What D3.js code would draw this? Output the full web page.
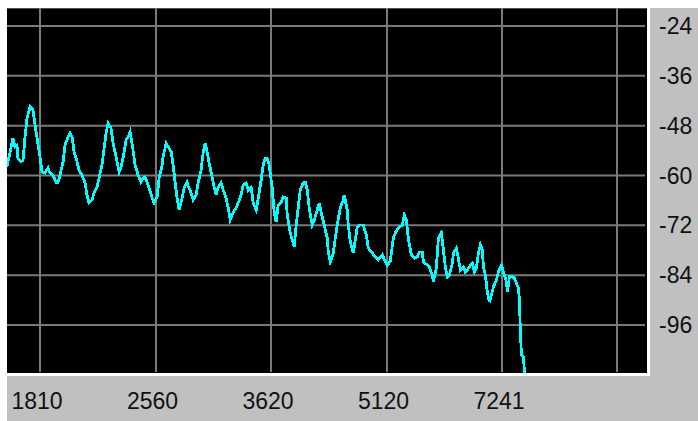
<!DOCTYPE html>
<html>
<head>
<meta charset="utf-8">
<script src="https://cdn.jsdelivr.net/npm/d3@7"></script>
<style>
  html, body { margin: 0; padding: 0; background: #fff; }
  svg { display: block; }
</style>
</head>
<body>
<svg id="chart" width="698" height="421"></svg>
<script>
// spectrum trace (Hz / dB)
const freqs = [1639, 1659, 1669, 1679, 1689, 1694, 1710, 1720, 1730, 1741, 1757, 1772, 1783, 1794, 1810,
  1821, 1837, 1854, 1865, 1882, 1899, 1911, 1922, 1940, 1951, 1969, 1981, 1993, 2005, 2023, 2035,
  2053, 2072, 2084, 2097, 2116, 2129, 2148, 2161, 2180, 2194, 2207, 2220, 2240, 2254, 2274, 2295,
  2309, 2322, 2343, 2358, 2372, 2393, 2408, 2430, 2451, 2466, 2481, 2496, 2511, 2534, 2549, 2572,
  2588, 2611, 2619, 2643, 2659, 2683, 2699, 2715, 2731, 2748, 2773, 2789, 2815, 2823, 2849, 2866,
  2892, 2909, 2935, 2953, 2971, 2989, 3007, 3034, 3052, 3071, 3089, 3117, 3136, 3164, 3184, 3203,
  3232, 3261, 3281, 3310, 3330, 3360, 3381, 3411, 3432, 3463, 3484, 3515, 3536, 3558, 3579, 3601,
  3633, 3655, 3677, 3699, 3733, 3755, 3789, 3801, 3835, 3870, 3881, 3905, 3928, 3952, 3988, 4012,
  4036, 4060, 4097, 4122, 4159, 4184, 4222, 4247, 4286, 4299, 4325, 4364, 4390, 4417, 4457, 4497,
  4510, 4551, 4565, 4593, 4634, 4662, 4690, 4733, 4775, 4819, 4848, 4906, 4951, 4995, 5056, 5102,
  5132, 5179, 5226, 5257, 5305, 5369, 5401, 5434, 5466, 5516, 5566, 5616, 5650, 5701, 5719, 5788,
  5822, 5875, 5893, 5946, 5982, 6036, 6073, 6109, 6146, 6183, 6239, 6258, 6314, 6352, 6391, 6449,
  6487, 6527, 6586, 6625, 6665, 6705, 6746, 6786, 6827, 6848, 6889, 6931, 6972, 7014, 7057, 7121,
  7163, 7228, 7272, 7338, 7360, 7404, 7471, 7516, 7561, 7607, 7630, 7653, 7676, 7722, 7745, 7769]
const levels = [-57.9, -53.4, -51.0, -53.1, -52.7, -55.8, -56.7, -56.3, -51.0, -46.2, -43.5, -44.2, -47.8, -51.0, -55.5,
  -59.2, -59.4, -58.2, -59.4, -59.9, -61.6, -61.6, -59.9, -56.7, -52.7, -50.7, -49.8, -50.7, -54.3, -56.7, -58.7,
  -59.9, -61.8, -64.7, -66.6, -65.9, -64.2, -62.8, -60.6, -57.5, -53.4, -49.8, -47.4, -48.6, -52.2, -55.5, -59.2,
  -57.9, -55.8, -51.5, -50.7, -49.5, -53.9, -57.5, -59.9, -61.6, -60.6, -60.4, -61.6, -63.0, -65.4, -66.6, -65.2,
  -60.6, -57.5, -55.5, -52.2, -53.1, -54.3, -57.5, -61.6, -65.4, -68.3, -65.4, -63.0, -61.6, -62.5, -64.2, -65.9,
  -64.7, -61.8, -58.7, -54.6, -52.2, -54.3, -57.0, -60.4, -62.8, -64.7, -62.8, -61.8, -63.5, -65.4, -67.8, -70.7,
  -68.8, -67.8, -66.6, -64.7, -62.3, -61.8, -63.5, -62.8, -66.6, -68.3, -65.4, -61.1, -57.5, -55.8, -55.8, -57.5,
  -63.0, -68.8, -71.2, -67.1, -66.4, -65.2, -65.4, -69.5, -73.8, -76.3, -77.2, -71.9, -67.8, -63.5, -61.8, -61.6,
  -63.5, -67.8, -71.9, -70.7, -68.3, -66.6, -70.0, -71.9, -75.1, -78.4, -80.8, -78.7, -75.1, -71.9, -67.8, -65.9,
  -64.7, -68.3, -71.9, -76.0, -78.7, -75.5, -72.4, -71.9, -71.9, -74.3, -77.5, -78.7, -79.6, -80.3, -79.1, -80.8,
  -81.6, -80.6, -75.1, -73.8, -72.6, -71.9, -69.5, -70.7, -75.1, -79.1, -79.9, -79.6, -78.4, -78.4, -80.8, -81.6,
  -82.0, -84.0, -85.6, -82.3, -75.1, -73.8, -77.9, -82.0, -84.4, -84.0, -81.1, -78.7, -77.5, -79.9, -82.8, -82.0,
  -83.2, -82.8, -81.6, -81.1, -83.2, -82.3, -78.7, -76.7, -77.9, -82.0, -84.0, -88.3, -90.5, -88.8, -86.8, -85.2,
  -83.2, -81.6, -83.2, -85.6, -88.1, -84.4, -84.4, -84.7, -85.9, -87.1, -90.0, -97.9, -103.2, -103.7, -107.3, -110.0]
const xTicks = [1810, 2560, 3620, 5120, 7241]
const xGrid = [1810, 2560, 3620, 5120, 7241, 10240]
const yTicks = [-24, -36, -48, -60, -72, -84, -96]

const svg = d3.select("#chart")
const plot = { left: 7, top: 8, right: 647, bottom: 373 }

const x = d3.scaleLog().domain([1810, 7241]).range([40, 502])
const y = d3.scaleLinear().domain([-24, -96]).range([26, 325])

// grey panel behind everything except the white top/left margin
svg.append("rect").attr("x", plot.left).attr("y", plot.top).attr("width", 698 - plot.left).attr("height", 421 - plot.top).style("fill", "#c0c0c0")
// white bevel under / right of the plot
svg.append("rect").attr("x", plot.left).attr("y", plot.top).attr("width", plot.right - plot.left + 3).attr("height", plot.bottom - plot.top + 3).style("fill", "#ffffff")
svg.append("rect").attr("x", plot.left).attr("y", plot.top).attr("width", plot.right - plot.left).attr("height", plot.bottom - plot.top).style("fill", "#000000")
svg.append("line").attr("x1", plot.left).attr("x2", plot.right).attr("y1", plot.top + 0.5).attr("y2", plot.top + 0.5).style("stroke", "#505050").style("stroke-width", 1)

svg.append("clipPath").attr("id", "plotclip").append("rect")
  .attr("x", plot.left).attr("y", plot.top).attr("width", plot.right - plot.left).attr("height", plot.bottom - plot.top)

//----------------------------------------------------------- grid
svg.selectAll(".hgrid").data(yTicks).join("line").attr("class", "hgrid")
  .attr("x1", plot.left).attr("x2", plot.right - 2).attr("y1", d => y(d)).attr("y2", d => y(d))
  .style("stroke", "#7a7a7a").style("stroke-width", 2)
svg.selectAll(".vgrid").data(xGrid).join("line").attr("class", "vgrid")
  .attr("x1", d => Math.round(x(d))).attr("x2", d => Math.round(x(d))).attr("y1", plot.top).attr("y2", plot.bottom - 1)
  .style("stroke", "#7a7a7a").style("stroke-width", 2)

//----------------------------------------------------------- trace
const data = freqs.map((f, i) => ({ f: f, db: levels[i] }))
const line = d3.line().x(d => x(d.f)).y(d => y(d.db))
svg.append("path").datum(data).attr("d", line).attr("clip-path", "url(#plotclip)")
  .style("fill", "none").style("stroke", "#00ffff").style("stroke-width", 2.8).style("stroke-linejoin", "miter")
  .style("shape-rendering", "crispEdges")

//----------------------------------------------------------- labels
svg.selectAll(".xlab").data(xTicks).join("text").attr("class", "xlab")
  .attr("x", d => x(d) - 3).attr("y", 409).attr("text-anchor", "middle")
  .style("font-family", "'Liberation Sans', Arial, sans-serif").style("font-size", "23px").style("fill", "#111")
  .text(d => d)
svg.selectAll(".ylab").data(yTicks).join("text").attr("class", "ylab")
  .attr("x", 659).attr("y", d => y(d) + 8).attr("text-anchor", "start")
  .style("font-family", "'Liberation Sans', Arial, sans-serif").style("font-size", "23px").style("fill", "#111")
  .text(d => d)
</script>
</body>
</html>
